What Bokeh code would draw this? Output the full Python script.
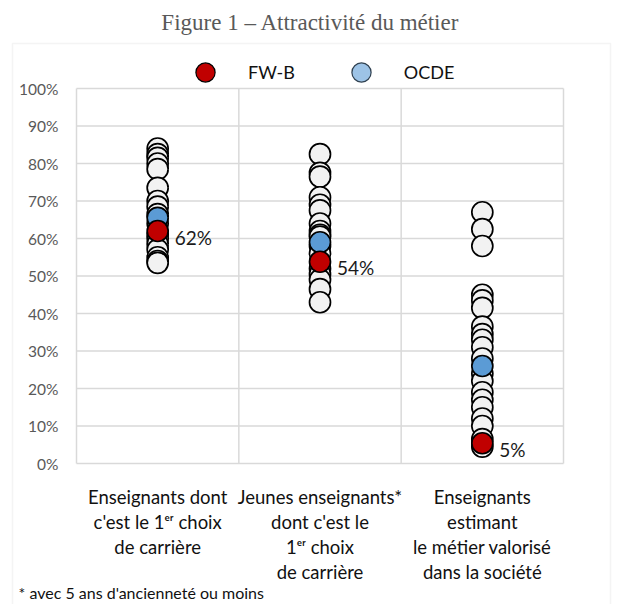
from bokeh.plotting import figure
from bokeh.models import Range1d, Legend, LegendItem, Label, BoxAnnotation
from bokeh.core.properties import value
from bokeh.embed import file_html
from bokeh.resources import INLINE

# ---- data ----
categories = [
    "Enseignants dont\nc'est le 1\u1d49\u02b3 choix\nde carrière",
    "Jeunes enseignants*\ndont c'est le\n1\u1d49\u02b3 choix\nde carrière",
    "Enseignants\nestimant\nle métier valorisé\ndans la société",
]
pays_col1 = [84, 82.5, 81.5, 80, 78.5, 73.5, 70, 68.5, 66.5, 64, 61, 60, 58.5, 57, 55, 54, 53.5]
pays_col2 = [82.5, 77.5, 76.5, 71, 69, 67.5, 64, 62, 61, 60.5, 58, 56, 52, 50.5, 49, 46.5, 43]
pays_col3 = [67, 62.5, 58, 45, 43.5, 41.5, 36.5, 34.5, 33, 31, 28, 24, 22, 19, 17, 15, 12, 10, 6.5, 4.5]
ocde = [65.5, 59.0, 26.0]
fwb = [62.0, 53.8, 5.4]
fwb_labels = ["62%", "54%", "5%"]
y_ticks = [0, 10, 20, 30, 40, 50, 60, 70, 80, 90, 100]
y_tick_labels = [f"{t}%" for t in y_ticks]
footnote = "* avec 5 ans d'ancienneté ou moins"
title_text = "Figure 1 – Attractivité du métier"

# ---- layout (pixels) ----
W, H = 620, 604
PL, PR, PT, PB = 76, 563, 88, 463          # plot area inside the canvas
FONT = "Lato"
GRID = "#d9d9d9"

ncat = len(categories)
ppx = (PR - PL) / ncat
ppy = (PB - PT) / 100.0

x_centers = [i + 0.5 for i in range(ncat)]
pays_cols = [pays_col1, pays_col2, pays_col3]
px, py = [], []
for xc, col in zip(x_centers, pays_cols):
    px += [xc] * len(col)
    py += col

p = figure(width=W, height=H,
           x_range=Range1d(-PL / ppx, (W - PL) / ppx),
           y_range=Range1d(-(H - PB) / ppy, 100 + PT / ppy),
           x_axis_location=None, y_axis_location=None,
           output_backend="svg", toolbar_location=None, min_border=0)
p.background_fill_color = "white"
p.border_fill_color = "white"
p.outline_line_color = None
p.grid.visible = False

# plot-area grid lines (also form the plot-area border)
p.segment(x0=[0] * len(y_ticks), x1=[ncat] * len(y_ticks), y0=y_ticks, y1=y_ticks,
          line_color=GRID, line_width=1.5)
bounds_x = list(range(ncat + 1))
p.segment(x0=bounds_x, x1=bounds_x, y0=[y_ticks[0]] * len(bounds_x), y1=[y_ticks[-1]] * len(bounds_x),
          line_color=GRID, line_width=1.5)

# y tick labels
p.text(x=[0] * len(y_ticks), y=y_ticks, text=y_tick_labels, x_offset=-18,
       text_align="right", text_baseline="middle", text_font=value(FONT),
       text_font_size="15.5px", text_color="#595959")

# category labels
p.text(x=x_centers, y=[0] * ncat, text=categories, y_offset=22,
       text_align="center", text_baseline="top", text_font=value(FONT),
       text_font_size="18.5px", text_color="#111111", text_line_height=1.15)

# points
p.scatter(x=px, y=py, size=21, fill_color="#F2F2F2", line_color="black", line_width=1.7)
p.scatter(x=x_centers, y=ocde, size=21, fill_color="#5B9BD5", line_color="black", line_width=1.7)
p.scatter(x=x_centers, y=fwb, size=21, fill_color="#C00000", line_color="black", line_width=1.7)
p.text(x=x_centers, y=fwb, text=fwb_labels, x_offset=17, y_offset=6,
       text_align="left", text_baseline="middle", text_font=value(FONT),
       text_font_size="19px", text_color="#1a1a1a")

# legend swatches (hidden renderers, only used for the legend)
leg_red = p.scatter(x=x_centers[:1], y=fwb[:1], fill_color="#C00000", line_color="black",
                    line_width=1.2, visible=False)
leg_blue = p.scatter(x=x_centers[:1], y=ocde[:1], fill_color="#9DC3E6", line_color="#2f4050",
                     line_width=1.2, visible=False)
legend = Legend(items=[LegendItem(label="FW-B", renderers=[leg_red]),
                       LegendItem(label="OCDE", renderers=[leg_blue])],
                orientation="horizontal", location=(205 - 24, H - 96),
                glyph_width=48, glyph_height=48, label_standoff=19, spacing=42,
                padding=0, margin=0, border_line_color=None, background_fill_alpha=0,
                inactive_fill_alpha=0,
                label_text_font=FONT, label_text_font_size="18px", label_text_color="#111111")
p.add_layout(legend)

# title, footnote, outer frame
p.add_layout(Label(x=310, y=22, x_units="canvas", y_units="canvas", text=title_text,
                   text_align="center", text_baseline="middle",
                   text_font="Liberation Serif", text_font_size="23px", text_color="#595959"))
p.add_layout(Label(x=18, y=592, x_units="canvas", y_units="canvas", text=footnote,
                   text_align="left", text_baseline="middle",
                   text_font=FONT, text_font_size="16px", text_color="#111111"))
p.add_layout(BoxAnnotation(left=12, right=610, top=43, bottom=H + 20,
                           left_units="canvas", right_units="canvas",
                           top_units="canvas", bottom_units="canvas",
                           fill_color=None, line_color=GRID, line_width=1.5))

open("out.html", "w").write(file_html(p, INLINE))
